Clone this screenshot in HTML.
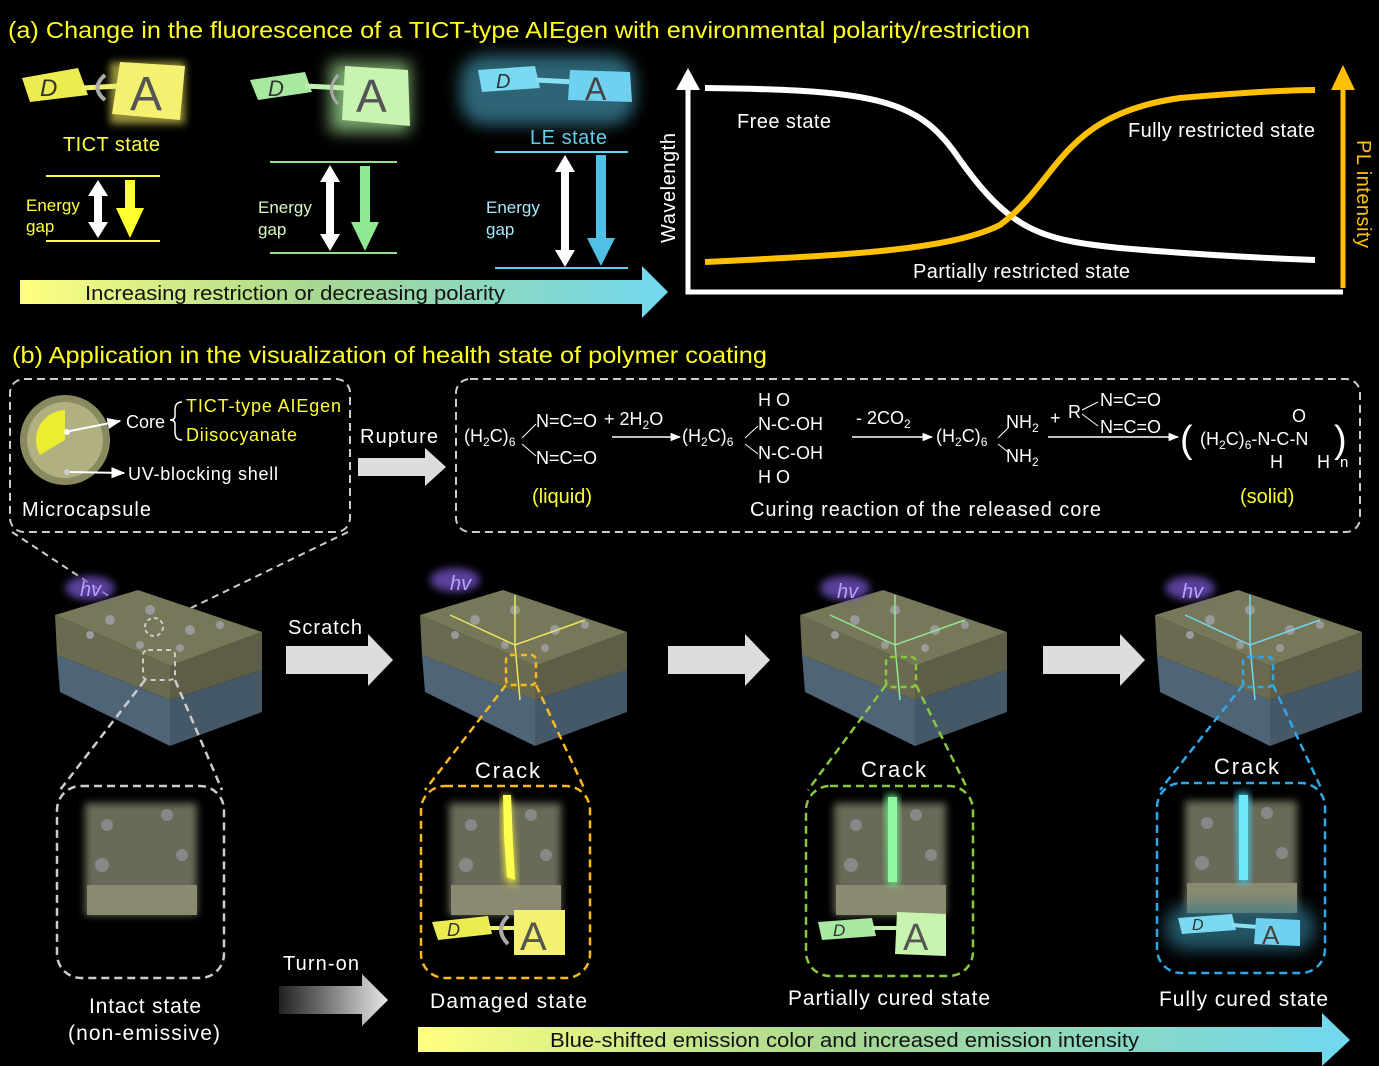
<!DOCTYPE html>
<html><head><meta charset="utf-8"><style>
html,body{margin:0;padding:0;background:#000;}
svg{display:block;font-family:"Liberation Sans",Arial,sans-serif;}
</style></head><body>
<svg width="1379" height="1066" viewBox="0 0 1379 1066" xmlns="http://www.w3.org/2000/svg">
<defs>
<linearGradient id="ga" x1="0" x2="1"><stop offset="0" stop-color="#ffff80"/><stop offset="0.45" stop-color="#a8d890"/><stop offset="1" stop-color="#70d8f0"/></linearGradient>
<linearGradient id="gt" x1="0" x2="1"><stop offset="0" stop-color="#202020"/><stop offset="1" stop-color="#e8e8e8"/></linearGradient>
<filter id="bl" x="-30%" y="-30%" width="160%" height="160%"><feGaussianBlur stdDeviation="8"/></filter>
<filter id="bl2" x="-30%" y="-30%" width="160%" height="160%"><feGaussianBlur stdDeviation="4"/></filter>
<marker id="ah" viewBox="0 0 10 10" refX="9" refY="5" markerWidth="7" markerHeight="7" orient="auto"><path d="M0,1 L10,5 L0,9z" fill="#fff"/></marker>
<g id="blk">
<polygon points="55,615 138,590 262,632 170,666" fill="#77775a"/>
<polygon points="55,615 170,666 170,700 57,655" fill="#6a6a50"/>
<polygon points="57,655 170,700 170,746 60,692" fill="#506478"/>
<polygon points="170,666 262,632 262,670 170,700" fill="#5e5e48"/>
<polygon points="170,700 262,670 262,712 170,746" fill="#445868"/>
<circle cx="110" cy="620" r="5" fill="#999"/><circle cx="150" cy="610" r="5" fill="#999"/><circle cx="190" cy="630" r="5" fill="#999"/><circle cx="220" cy="625" r="4" fill="#999"/><circle cx="90" cy="635" r="4" fill="#999"/><circle cx="140" cy="645" r="4" fill="#999"/><circle cx="180" cy="648" r="4" fill="#999"/>
</g>
<g id="tile"><rect x="28" y="18" width="112" height="112" fill="#6a6a58" filter="url(#bl2)"/><rect x="30" y="100" width="110" height="30" fill="#8a8a70"/><circle cx="50" cy="40" r="6" fill="#888"/><circle cx="110" cy="30" r="6" fill="#888"/><circle cx="45" cy="80" r="7" fill="#888"/><circle cx="125" cy="70" r="6" fill="#888"/></g>
</defs>
<rect width="1379" height="1066" fill="#000"/>

<text x="8" y="38" font-size="23" fill="#ffff20" textLength="1022" lengthAdjust="spacingAndGlyphs">(a) Change in the fluorescence of a TICT-type AIEgen with environmental polarity/restriction</text>

<g>
<rect x="110" y="62" width="75" height="62" fill="#f8f060" filter="url(#bl2)" opacity=".6"/>
<polygon points="22,78 78,68 88,95 30,102" fill="#ecec50"/>
<line x1="82" y1="88" x2="120" y2="86" stroke="#f0f070" stroke-width="5"/>
<polygon points="120,62 185,66 180,120 112,114" fill="#f4f070"/>
<text x="40" y="96" font-size="24" font-style="italic" fill="#333">D</text>
<text x="130" y="110" font-size="48" fill="#555">A</text>
<path d="M105,75 Q90,88 105,100" fill="none" stroke="#aaa" stroke-width="4"/>
</g>
<g>
<rect x="330" y="62" width="80" height="70" fill="#b0f0a0" filter="url(#bl)" opacity=".7"/>
<polygon points="250,80 305,72 312,92 258,100" fill="#a8e8a0"/>
<line x1="305" y1="86" x2="345" y2="88" stroke="#c0f0b0" stroke-width="5"/>
<polygon points="345,66 408,70 410,126 342,120" fill="#c8f4b0"/>
<text x="268" y="96" font-size="22" font-style="italic" fill="#333">D</text>
<text x="356" y="112" font-size="46" fill="#555">A</text>
<path d="M338,75 Q325,90 338,104" fill="none" stroke="#aaa" stroke-width="3"/>
</g>
<g>
<rect x="460" y="55" width="175" height="70" rx="25" fill="#4090a8" filter="url(#bl)" opacity=".7"/>
<polygon points="478,70 535,66 540,88 482,92" fill="#7ad8f0"/>
<line x1="535" y1="80" x2="575" y2="82" stroke="#8ae0f0" stroke-width="5"/>
<polygon points="570,70 630,72 632,102 568,100" fill="#70d0f0"/>
<text x="496" y="88" font-size="20" font-style="italic" fill="#333">D</text>
<text x="585" y="100" font-size="32" fill="#444">A</text>
</g>
<text x="63" y="151" font-size="20" fill="#ffff40" textLength="97">TICT state</text>
<text x="530" y="144" font-size="20" fill="#60d0f0" textLength="77">LE state</text>

<line x1="46" y1="176" x2="160" y2="176" stroke="#ffff40" stroke-width="2"/>
<line x1="46" y1="241" x2="160" y2="241" stroke="#ffff40" stroke-width="2"/>
<text x="26" y="211" font-size="17" fill="#ffff40">Energy</text><text x="26" y="232" font-size="17" fill="#ffff40">gap</text>
<path d="M98,180 L108,196 L102,196 L102,222 L108,222 L98,238 L88,222 L94,222 L94,196 L88,196Z" fill="#fff"/>
<path d="M125,180 L135,180 L135,208 L144,208 L130,238 L116,208 L125,208Z" fill="#ffff30"/>

<line x1="270" y1="162" x2="397" y2="162" stroke="#90e090" stroke-width="2"/>
<line x1="270" y1="253" x2="397" y2="253" stroke="#90e090" stroke-width="2"/>
<text x="258" y="213" font-size="17" fill="#d8f8c0">Energy</text><text x="258" y="235" font-size="17" fill="#d8f8c0">gap</text>
<path d="M330,165 L340,182 L334,182 L334,234 L340,234 L330,251 L320,234 L326,234 L326,182 L320,182Z" fill="#fff"/>
<path d="M360,166 L370,166 L370,222 L379,222 L365,251 L351,222 L360,222Z" fill="#90e890"/>

<line x1="495" y1="152" x2="628" y2="152" stroke="#60d0f0" stroke-width="2"/>
<line x1="495" y1="268" x2="628" y2="268" stroke="#60d0f0" stroke-width="2"/>
<text x="486" y="213" font-size="17" fill="#a8e8f8">Energy</text><text x="486" y="235" font-size="17" fill="#a8e8f8">gap</text>
<path d="M565,155 L575,172 L569,172 L569,250 L575,250 L565,267 L555,250 L561,250 L561,172 L555,172Z" fill="#fff"/>
<path d="M596,155 L606,155 L606,238 L615,238 L601,266 L587,238 L596,238Z" fill="#50c0e8"/>

<polygon points="20,280 642,280 642,266 668,292 642,318 642,304 20,304" fill="url(#ga)"/>
<text x="85" y="300" font-size="20" fill="#111" textLength="420" lengthAdjust="spacingAndGlyphs">Increasing restriction or decreasing polarity</text>

<text transform="translate(675,243) rotate(-90)" font-size="20" fill="#fff" textLength="110">Wavelength</text>
<path d="M688,88 L688,292 L1343,292" fill="none" stroke="#fff" stroke-width="5"/>
<polygon points="688,68 676,90 700,90" fill="#fff"/>
<line x1="1343" y1="288" x2="1343" y2="88" stroke="#ffc000" stroke-width="5"/>
<polygon points="1343,65 1331,90 1355,90" fill="#ffc000"/>
<text transform="translate(1357,140) rotate(90)" font-size="20" fill="#ffc000" textLength="108">PL intensity</text>
<path d="M705,88 C880,90 920,100 960,160 C1010,230 1040,240 1120,248 C1200,255 1260,258 1315,260" fill="none" stroke="#fff" stroke-width="6"/>
<path d="M705,262 C850,255 950,250 1000,225 C1060,180 1060,115 1180,98 C1250,92 1290,90 1315,90" fill="none" stroke="#ffc000" stroke-width="6"/>
<text x="737" y="128" font-size="20" fill="#fff" textLength="94">Free state</text>
<text x="1128" y="137" font-size="20" fill="#fff" textLength="187">Fully restricted state</text>
<text x="913" y="278" font-size="20" fill="#fff" textLength="217">Partially restricted state</text>

<text x="12" y="363" font-size="23" fill="#ffff20" textLength="755" lengthAdjust="spacingAndGlyphs">(b) Application in the visualization of health state of polymer coating</text>

<rect x="10" y="379" width="340" height="153" rx="14" fill="none" stroke="#ccc" stroke-width="2" stroke-dasharray="8,5"/>
<circle cx="65" cy="440" r="45" fill="#8a8a60"/>
<circle cx="65" cy="440" r="38" fill="#b0b080"/>
<path d="M65,440 L65,410 A30,30 0 0 0 40,455 Z" fill="#ecec30"/>
<circle cx="67" cy="432" r="3" fill="#fff"/><circle cx="67" cy="472" r="3" fill="#ccc"/>
<line x1="70" y1="431" x2="120" y2="421" stroke="#fff" stroke-width="2" marker-end="url(#ah)"/>
<line x1="70" y1="472" x2="124" y2="473" stroke="#fff" stroke-width="2" marker-end="url(#ah)"/>
<text x="126" y="428" font-size="18" fill="#fff">Core</text>
<path d="M182,402 Q175,402 175,410 L175,416 Q175,420 170,420 Q175,420 175,424 L175,432 Q175,440 182,440" fill="none" stroke="#fff" stroke-width="1.5"/>
<text x="186" y="412" font-size="18" fill="#ffff30" textLength="155">TICT-type AIEgen</text>
<text x="186" y="441" font-size="18" fill="#ffff30" textLength="111">Diisocyanate</text>
<text x="128" y="480" font-size="18" fill="#fff" textLength="150">UV-blocking shell</text>
<text x="22" y="516" font-size="20" fill="#fff" textLength="129">Microcapsule</text>

<text x="360" y="443" font-size="20" fill="#fff" textLength="78">Rupture</text>
<polygon points="358,458 425,458 425,448 446,467 425,486 425,476 358,476" fill="#ddd"/>

<rect x="456" y="379" width="904" height="153" rx="14" fill="none" stroke="#ccc" stroke-width="2" stroke-dasharray="8,5"/>
<g fill="#fff" font-size="18">
<text x="464" y="442">(H<tspan font-size="12" dy="4">2</tspan><tspan dy="-4">C)</tspan><tspan font-size="12" dy="4">6</tspan></text>
<text x="536" y="427">N=C=O</text><text x="536" y="464">N=C=O</text>
<text x="604" y="425">+ 2H<tspan font-size="12" dy="4">2</tspan><tspan dy="-4">O</tspan></text>
<line x1="522" y1="438" x2="536" y2="424" stroke="#fff"/><line x1="522" y1="444" x2="536" y2="456" stroke="#fff"/>
<line x1="612" y1="437" x2="680" y2="437" stroke="#fff" stroke-width="1.5" marker-end="url(#ah)"/>
<text x="682" y="442">(H<tspan font-size="12" dy="4">2</tspan><tspan dy="-4">C)</tspan><tspan font-size="12" dy="4">6</tspan></text>
<line x1="745" y1="438" x2="758" y2="426" stroke="#fff"/><line x1="745" y1="444" x2="758" y2="454" stroke="#fff"/>
<text x="758" y="406">H  O</text>
<text x="758" y="430">N-C-OH</text>
<text x="758" y="459">N-C-OH</text>
<text x="758" y="483">H  O</text>
<text x="856" y="424">- 2CO<tspan font-size="12" dy="4">2</tspan></text>
<line x1="852" y1="437" x2="932" y2="437" stroke="#fff" stroke-width="1.5" marker-end="url(#ah)"/>
<text x="936" y="442">(H<tspan font-size="12" dy="4">2</tspan><tspan dy="-4">C)</tspan><tspan font-size="12" dy="4">6</tspan></text>
<line x1="998" y1="438" x2="1008" y2="428" stroke="#fff"/><line x1="998" y1="444" x2="1008" y2="452" stroke="#fff"/>
<text x="1006" y="428">NH<tspan font-size="12" dy="4">2</tspan></text>
<text x="1006" y="462">NH<tspan font-size="12" dy="4">2</tspan></text>
<text x="1050" y="424">+</text>
<text x="1068" y="418">R</text>
<line x1="1082" y1="410" x2="1098" y2="402" stroke="#fff"/><line x1="1082" y1="414" x2="1098" y2="426" stroke="#fff"/>
<text x="1100" y="406">N=C=O</text><text x="1100" y="433">N=C=O</text>
<line x1="1048" y1="437" x2="1178" y2="437" stroke="#fff" stroke-width="1.5" marker-end="url(#ah)"/>
<text x="1180" y="452" font-size="38">(</text>
<text x="1200" y="445">(H<tspan font-size="12" dy="4">2</tspan><tspan dy="-4">C)</tspan><tspan font-size="12" dy="4">6</tspan><tspan dy="-4">-N-C-N</tspan></text>
<text x="1292" y="422">O</text>
<text x="1270" y="468">H</text><text x="1317" y="468">H</text>
<text x="1334" y="452" font-size="38">)</text><text x="1340" y="467" font-size="15">n</text>
</g>
<text x="532" y="503" font-size="20" fill="#ffff30">(liquid)</text>
<text x="1240" y="503" font-size="20" fill="#ffff30">(solid)</text>
<text x="750" y="516" font-size="20" fill="#fff" textLength="351">Curing reaction of the released core</text>

<line x1="12" y1="532" x2="148" y2="622" stroke="#ccc" stroke-width="2" stroke-dasharray="7,5"/>
<line x1="348" y1="532" x2="162" y2="622" stroke="#ccc" stroke-width="2" stroke-dasharray="7,5"/>

<g><use href="#blk"/><ellipse cx="90" cy="588" rx="25" ry="12" fill="#7050c0" filter="url(#bl2)" opacity=".8"/><text x="80" y="596" font-size="20" font-style="italic" fill="#b8a0ff">hv</text></g>
<circle cx="154" cy="627" r="9" fill="none" stroke="#ccc" stroke-width="2" stroke-dasharray="4,3"/>
<rect x="143" y="650" width="32" height="30" rx="5" fill="none" stroke="#ccc" stroke-width="2" stroke-dasharray="5,4"/>
<g transform="translate(365,0)"><use href="#blk"/><path d="M85,615 L150,645 L220,620 M150,645 L155,700 M150,595 L150,645" stroke="#e8e860" stroke-width="1.5" fill="none"/><ellipse cx="90" cy="580" rx="25" ry="12" fill="#7050c0" filter="url(#bl2)" opacity=".8"/><text x="85" y="590" font-size="20" font-style="italic" fill="#b8a0ff">hv</text></g>
<g transform="translate(745,0)"><use href="#blk"/><path d="M85,615 L150,645 L220,620 M150,645 L155,700 M150,595 L150,645" stroke="#90e890" stroke-width="1.5" fill="none"/><ellipse cx="100" cy="588" rx="25" ry="12" fill="#7050c0" filter="url(#bl2)" opacity=".8"/><text x="92" y="598" font-size="20" font-style="italic" fill="#b8a0ff">hv</text></g>
<g transform="translate(1100,0)"><use href="#blk"/><path d="M85,615 L150,645 L220,620 M150,645 L155,700 M150,595 L150,645" stroke="#70d8f0" stroke-width="1.5" fill="none"/><ellipse cx="90" cy="588" rx="25" ry="12" fill="#7050c0" filter="url(#bl2)" opacity=".8"/><text x="82" y="598" font-size="20" font-style="italic" fill="#b8a0ff">hv</text></g>

<text x="288" y="634" font-size="20" fill="#fff" textLength="74">Scratch</text>
<polygon points="286,646 368,646 368,634 393,660 368,686 368,674 286,674" fill="#ddd"/>
<polygon points="668,646 745,646 745,634 770,660 745,686 745,674 668,674" fill="#ddd"/>
<polygon points="1043,646 1120,646 1120,634 1145,660 1120,686 1120,674 1043,674" fill="#ddd"/>

<g stroke-width="2.5" fill="none" stroke-dasharray="8,5">
<line x1="145" y1="680" x2="60" y2="790" stroke="#ccc"/><line x1="175" y1="680" x2="222" y2="790" stroke="#ccc"/>
<line x1="506" y1="685" x2="425" y2="790" stroke="#f8b820"/><line x1="536" y1="685" x2="585" y2="790" stroke="#f8b820"/>
<line x1="886" y1="685" x2="808" y2="790" stroke="#88c840"/><line x1="916" y1="685" x2="968" y2="790" stroke="#88c840"/>
<line x1="1243" y1="685" x2="1160" y2="790" stroke="#30a8e8"/><line x1="1273" y1="685" x2="1322" y2="790" stroke="#30a8e8"/>
</g>
<rect x="506" y="655" width="30" height="30" rx="5" fill="none" stroke="#f8b820" stroke-width="2.5" stroke-dasharray="6,4"/>
<rect x="886" y="657" width="30" height="30" rx="5" fill="none" stroke="#88c840" stroke-width="2.5" stroke-dasharray="6,4"/>
<rect x="1243" y="657" width="30" height="30" rx="5" fill="none" stroke="#30a8e8" stroke-width="2.5" stroke-dasharray="6,4"/>

<g transform="translate(57,785)"><use href="#tile"/></g>
<rect x="57" y="786" width="167" height="192" rx="24" fill="none" stroke="#ccc" stroke-width="2.5" stroke-dasharray="8,5"/>

<g transform="translate(421,785)"><use href="#tile"/><path d="M82,10 L88,10 L92,60 L95,100 L85,95 L82,50Z" fill="#ffff40" filter="url(#bl2)"/><path d="M82,10 L90,10 L92,60 L94,95 L86,92 L83,50Z" fill="#ffff50"/></g>
<rect x="421" y="786" width="169" height="192" rx="24" fill="none" stroke="#f8b820" stroke-width="2.5" stroke-dasharray="8,5"/>
<polygon points="432,922 488,916 492,934 438,940" fill="#ecec50"/>
<line x1="488" y1="928" x2="515" y2="928" stroke="#f0f070" stroke-width="4"/>
<polygon points="514,910 565,910 565,955 514,955" fill="#f4f070"/>
<text x="447" y="936" font-size="18" font-style="italic" fill="#333">D</text>
<text x="520" y="950" font-size="40" fill="#555">A</text>
<path d="M508,916 Q494,930 508,944" fill="none" stroke="#aaa" stroke-width="4"/>

<g transform="translate(806,785)"><use href="#tile"/><path d="M80,10 L92,10 L92,100 L82,100Z" fill="#70f090" filter="url(#bl2)"/><rect x="82" y="12" width="9" height="85" fill="#90f8a0"/></g>
<rect x="806" y="786" width="167" height="190" rx="24" fill="none" stroke="#88c840" stroke-width="2.5" stroke-dasharray="8,5"/>
<polygon points="818,922 872,918 876,936 822,940" fill="#a8e8a0"/>
<line x1="872" y1="928" x2="898" y2="928" stroke="#c0f0b0" stroke-width="4"/>
<polygon points="897,912 946,914 946,956 895,954" fill="#c8f4b0"/>
<text x="833" y="936" font-size="17" font-style="italic" fill="#333">D</text>
<text x="903" y="950" font-size="38" fill="#555">A</text>

<g transform="translate(1157,783)"><use href="#tile"/><path d="M80,10 L92,10 L92,100 L82,100Z" fill="#40d0f0" filter="url(#bl2)"/><rect x="82" y="12" width="9" height="85" fill="#70e8f8"/></g>
<rect x="1157" y="783" width="168" height="190" rx="24" fill="none" stroke="#30a8e8" stroke-width="2.5" stroke-dasharray="8,5"/>
<rect x="1165" y="905" width="150" height="45" rx="20" fill="#307890" filter="url(#bl)" opacity=".7"/>
<polygon points="1178,918 1232,914 1236,930 1182,934" fill="#7ad8f0"/>
<line x1="1232" y1="925" x2="1258" y2="927" stroke="#8ae0f0" stroke-width="4"/>
<polygon points="1256,918 1300,920 1300,946 1254,944" fill="#70d0f0"/>
<text x="1192" y="930" font-size="16" font-style="italic" fill="#333">D</text>
<text x="1262" y="944" font-size="26" fill="#444">A</text>

<text x="475" y="778" font-size="22" fill="#fff" textLength="65">Crack</text>
<text x="861" y="777" font-size="22" fill="#fff" textLength="65">Crack</text>
<text x="1214" y="774" font-size="22" fill="#fff" textLength="65">Crack</text>

<text x="89" y="1013" font-size="21" fill="#fff" textLength="112">Intact state</text>
<text x="68" y="1040" font-size="21" fill="#fff" textLength="152">(non-emissive)</text>
<text x="430" y="1008" font-size="21" fill="#fff" textLength="157">Damaged state</text>
<text x="788" y="1005" font-size="21" fill="#fff" textLength="202">Partially cured state</text>
<text x="1159" y="1006" font-size="21" fill="#fff" textLength="169">Fully cured state</text>

<text x="283" y="970" font-size="20" fill="#fff" textLength="76">Turn-on</text>
<polygon points="279,986 362,986 362,974 388,1000 362,1026 362,1014 279,1014" fill="url(#gt)"/>

<polygon points="418,1027 1322,1027 1322,1013 1350,1040 1322,1066 1322,1052 418,1052" fill="url(#ga)"/>
<text x="550" y="1047" font-size="20" fill="#111" textLength="589" lengthAdjust="spacingAndGlyphs">Blue-shifted emission color and increased emission intensity</text>
</svg>
</body></html>
